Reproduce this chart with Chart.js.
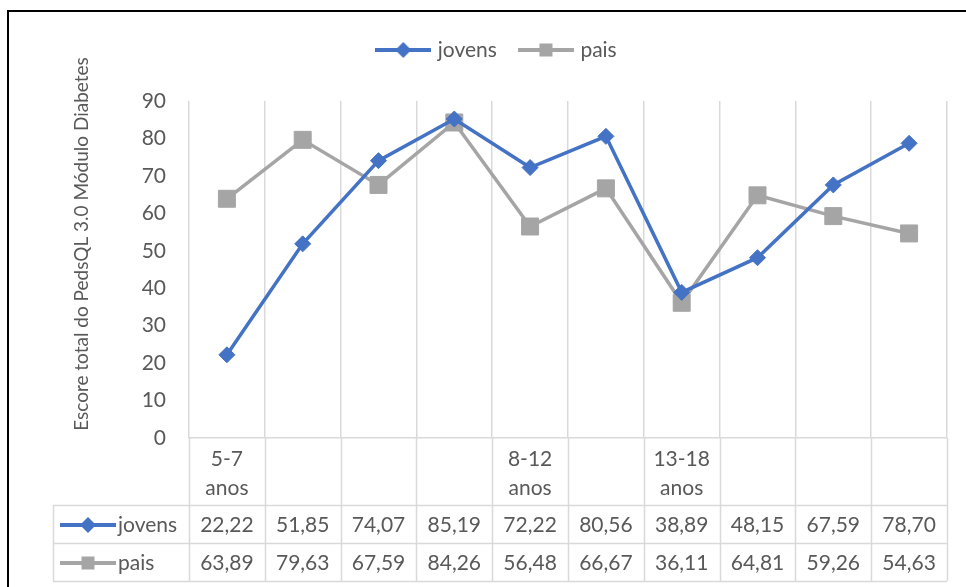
<!DOCTYPE html>
<html>
<head>
<meta charset="utf-8">
<script src="https://cdn.jsdelivr.net/npm/chart.js@4/dist/chart.umd.min.js"></script>
<style>
  body { margin: 0; background: #fff; }
  #wrap { width: 966px; height: 587px; }
</style>
</head>
<body>
<div id="wrap"><canvas id="myChart" width="966" height="587"></canvas></div>
<script>
'use strict'

// data
const categories = [['5-7', 'anos'], [''], [''], [''], ['8-12', 'anos'], [''], ['13-18', 'anos'], [''], [''], ['']];
const jovens = [22.22, 51.85, 74.07, 85.19, 72.22, 80.56, 38.89, 48.15, 67.59, 78.70];
const pais = [63.89, 79.63, 67.59, 84.26, 56.48, 66.67, 36.11, 64.81, 59.26, 54.63];
const yMin = 0;
const yMax = 90;
const yStep = 10;
const yTitle = 'Escore total do PedsQL 3.0 Módulo Diabetes';

const blue = '#4472C4';
const gray = '#A5A5A5';
const textColor = '#595959';
const lineColor = '#D9D9D9';
const fontFamily = 'Lato, "Open Sans", sans-serif';

function fmt(v) {
  return v.toFixed(2).replace('.', ',');
}

// little line + marker picture, like excel's legend key
function makeKey(color, shape) {
  const c = document.createElement('canvas');
  c.width = 56;
  c.height = 18;
  const k = c.getContext('2d');
  k.strokeStyle = color;
  k.lineWidth = 4;
  k.beginPath();
  k.moveTo(0, 9);
  k.lineTo(56, 9);
  k.stroke();
  k.fillStyle = color;
  k.beginPath();
  if (shape === 'diamond') {
    k.moveTo(28, 1);
    k.lineTo(36, 9);
    k.lineTo(28, 17);
    k.lineTo(20, 9);
    k.closePath();
  } else {
    k.rect(21.5, 2.5, 13, 13);
  }
  k.fill();
  return c;
}

const jovensKey = makeKey(blue, 'diamond');
const paisKey = makeKey(gray, 'square');

const series = [
  {name: 'jovens', data: jovens, key: jovensKey},
  {name: 'pais', data: pais, key: paisKey}
];

const tablePlugin = {
  id: 'tablePlugin',
  beforeDraw(chart) {
    const ctx = chart.ctx;
    ctx.save();
    ctx.fillStyle = '#fff';
    ctx.fillRect(0, 0, chart.width, chart.height);
    // outer frame
    ctx.strokeStyle = '#000';
    ctx.lineWidth = 2;
    ctx.strokeRect(8, 11, 2000, 2000);
    ctx.restore();
  },
  afterDraw(chart) {
    const ctx = chart.ctx;
    const area = chart.chartArea;
    const x = chart.scales.x;
    const n = categories.length;
    const colW = area.width / n;
    const tableLeft = 53;
    const catBottom = 505;
    const rowH = 38;
    const tableBottom = catBottom + rowH * series.length;

    ctx.save();
    ctx.strokeStyle = lineColor;
    ctx.lineWidth = 1.5;

    // column lines below the axis
    for (let i = 0; i <= n; i++) {
      const px = Math.round(area.left + i * colW) + 0.5;
      ctx.beginPath();
      ctx.moveTo(px, area.bottom);
      ctx.lineTo(px, tableBottom);
      ctx.stroke();
    }
    // row lines
    for (let r = 0; r <= series.length; r++) {
      const py = catBottom + r * rowH + 0.5;
      ctx.beginPath();
      ctx.moveTo(tableLeft, py);
      ctx.lineTo(area.right, py);
      ctx.stroke();
    }
    ctx.beginPath();
    ctx.moveTo(tableLeft + 0.5, catBottom);
    ctx.lineTo(tableLeft + 0.5, tableBottom);
    ctx.stroke();

    ctx.fillStyle = textColor;
    ctx.font = '21px ' + fontFamily;
    ctx.textAlign = 'center';
    ctx.textBaseline = 'middle';

    // category labels
    categories.forEach((lines, i) => {
      const cx = x.getPixelForValue(i);
      lines.forEach((t, j) => {
        ctx.fillText(t, cx, 459 + j * 29);
      });
    });

    // values
    series.forEach((s, r) => {
      const cy = catBottom + r * rowH + rowH / 2 + 1;
      s.data.forEach((v, i) => {
        ctx.fillText(fmt(v), x.getPixelForValue(i), cy);
      });
      ctx.drawImage(s.key, 60, cy - 9);
      ctx.textAlign = 'left';
      ctx.fillText(s.name, 118, cy);
      ctx.textAlign = 'center';
    });

    // y axis title
    ctx.translate(82, 244);
    ctx.rotate(-Math.PI / 2);
    ctx.font = '19px ' + fontFamily;
    ctx.fillText(yTitle, 0, 0);
    ctx.restore();
  }
};

const ctx = document.getElementById('myChart').getContext('2d');

const myChart = new Chart(ctx, {
  type: 'line',
  data: {
    labels: categories,
    datasets: [
      {
        label: 'jovens',
        data: jovens,
        borderColor: blue,
        backgroundColor: blue,
        borderWidth: 3.5,
        pointStyle: 'rectRot',
        pointRadius: 8,
        pointBorderWidth: 1,
        tension: 0
      },
      {
        label: 'pais',
        data: pais,
        borderColor: gray,
        backgroundColor: gray,
        borderWidth: 3.5,
        pointStyle: 'rect',
        pointRadius: 12,
        pointBorderWidth: 1,
        tension: 0
      }
    ]
  },
  options: {
    responsive: false,
    animation: false,
    layout: {
      padding: {top: 14.5, right: 19, left: 49, bottom: 0}
    },
    plugins: {
      legend: {
        position: 'top',
        labels: {
          usePointStyle: true,
          pointStyleWidth: 48,
          padding: 25,
          color: textColor,
          font: {family: fontFamily, size: 21},
          generateLabels(chart) {
            return chart.data.datasets.map((d, i) => ({
              text: d.label,
              pointStyle: i === 0 ? jovensKey : paisKey,
              fillStyle: d.borderColor,
              strokeStyle: d.borderColor,
              fontColor: textColor,
              lineWidth: 0,
              hidden: false,
              datasetIndex: i
            }));
          }
        }
      },
      // empty spacer between legend and plot
      title: {
        display: true,
        text: '',
        position: 'top',
        weight: 500,
        font: {size: 10, lineHeight: 1},
        padding: {top: 10, bottom: 10.5}
      },
      tooltip: {enabled: false}
    },
    scales: {
      x: {
        type: 'category',
        offset: true,
        grid: {
          offset: true,
          color: lineColor,
          lineWidth: 1.5,
          drawTicks: false
        },
        border: {color: lineColor, width: 1.5},
        ticks: {display: false},
        afterFit(scale) {
          scale.height = 149;
        }
      },
      y: {
        min: yMin,
        max: yMax,
        ticks: {
          stepSize: yStep,
          padding: 23,
          color: textColor,
          font: {family: fontFamily, size: 21}
        },
        grid: {display: false, drawTicks: false},
        border: {display: false},
        afterFit(scale) {
          scale.width = 140;
        }
      }
    }
  },
  plugins: [tablePlugin]
});
</script>
</body>
</html>
